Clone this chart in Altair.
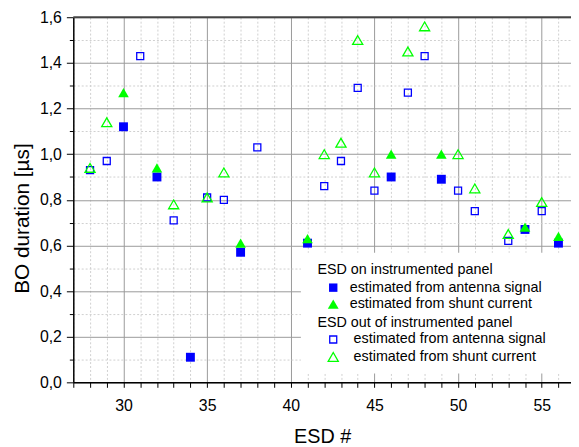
import altair as alt
import pandas as pd

# ---------------- data ----------------
series_names = ["estimated from antenna signal", "estimated from shunt current"]

on_antenna_esd = [30, 32, 34, 37, 41, 46, 49, 54, 56]
on_antenna_val = [1.12, 0.90, 0.11, 0.57, 0.61, 0.90, 0.89, 0.67, 0.61]

on_shunt_esd = [30, 32, 37, 41, 46, 49, 54, 56]
on_shunt_val = [1.27, 0.94, 0.61, 0.63, 1.00, 1.00, 0.68, 0.64]

out_antenna_esd = [28, 29, 31, 33, 35, 36, 38, 42, 43, 44, 45, 47, 48, 50, 51, 53, 55]
out_antenna_val = [0.93, 0.97, 1.43, 0.71, 0.81, 0.80, 1.03, 0.86, 0.97, 1.29, 0.84,
                   1.27, 1.43, 0.84, 0.75, 0.62, 0.75]

out_shunt_esd = [28, 29, 33, 35, 36, 42, 43, 44, 45, 47, 48, 50, 51, 53, 55]
out_shunt_val = [0.94, 1.14, 0.78, 0.81, 0.92, 1.00, 1.05, 1.50, 0.92, 1.45, 1.56,
                 1.00, 0.85, 0.65, 0.79]

x_ticks = list(range(27, 57))
y_ticks = [0.0, 0.1, 0.2, 0.3, 0.4, 0.5, 0.6, 0.7, 0.8, 0.9, 1.0,
           1.1, 1.2, 1.3, 1.4, 1.5, 1.6]

legend_group_titles = ["ESD on instrumented panel", "ESD out of instrumented panel"]

# ---------------- tables ----------------
df_on = pd.DataFrame({
    "esd": on_antenna_esd + on_shunt_esd,
    "dur": on_antenna_val + on_shunt_val,
    "series": [series_names[0]] * len(on_antenna_esd) + [series_names[1]] * len(on_shunt_esd),
})
df_out = pd.DataFrame({
    "esd": out_antenna_esd + out_shunt_esd,
    "dur": out_antenna_val + out_shunt_val,
    "series": [series_names[0]] * len(out_antenna_esd) + [series_names[1]] * len(out_shunt_esd),
})

# ---------------- styling ----------------
W, H = 503, 369
FONT = "Liberation Sans"
BLUE = "#0000ff"
GREEN = "#00ff00"
SHAPES = ["square", "triangle-up"]
COLORS = [BLUE, GREEN]
LEG_FS = 14.5

x_scale = alt.Scale(domain=[27, 56.75], nice=False, zero=False)
y_scale = alt.Scale(domain=[0, 1.6], nice=False, zero=False)

x_major = "datum.value % 5 == 0"
y_major = "round(datum.value * 10) % 2 == 0"

x_axis = alt.Axis(
    values=x_ticks,
    labelExpr=f"{x_major} ? datum.label : ''",
    labelOverlap=False, labelFlush=False,
    tickSize=5, tickColor="black", tickWidth=1,
    labelPadding=10, labelFontSize=16, labelFont=FONT, labelColor="black",
    title="ESD #", titleFontSize=20, titleFont=FONT, titleFontWeight="normal",
    titleColor="black", titlePadding=14,
    domainColor="black", domainWidth=1.5,
    grid=True,
    gridDash={"condition": {"test": x_major, "value": []}, "value": [2, 2]},
    gridColor={"condition": {"test": x_major, "value": "#9a9a9a"}, "value": "#cfcfcf"},
    gridWidth=1,
)

y_axis = alt.Axis(
    values=y_ticks,
    labelExpr=f"{y_major} ? replace(format(datum.value, '.1f'), '.', ',') : ''",
    labelOverlap=False, labelFlush=False,
    tickSize={"condition": {"test": y_major, "value": 7}, "value": 4},
    tickColor="black", tickWidth=1,
    labelPadding=5, labelFontSize=16, labelFont=FONT, labelColor="black",
    title="BO duration [µs]", titleFontSize=21, titleFont=FONT, titleFontWeight="normal",
    titleColor="black", titleX=-41, titleY=203,
    domainColor="black", domainWidth=1.5,
    grid=True,
    gridDash={"condition": {"test": y_major, "value": []}, "value": [2, 2]},
    gridColor={"condition": {"test": y_major, "value": "#9a9a9a"}, "value": "#cfcfcf"},
    gridWidth=1,
)

ONE = alt.Data(values=[{}])

# background box of the legend (hides the grid behind it)
legend_bg = alt.Chart(ONE).mark_rect(fill="white").encode(
    x=alt.value(230), x2=alt.value(W), y=alt.value(238), y2=alt.value(360)
)

# top frame line
top_frame = alt.Chart(ONE).mark_rule(color="#444444", strokeWidth=2).encode(
    x=alt.value(0), x2=alt.value(W), y=alt.value(0)
)


def legend_text(txt, px, py):
    return alt.Chart(ONE).mark_text(
        text=txt, align="left", baseline="middle", font=FONT, fontSize=LEG_FS, color="black"
    ).encode(x=alt.value(px), y=alt.value(py))


def legend_symbol(shape, filled, color, size, px, py):
    return alt.Chart(ONE).mark_point(
        shape=shape, filled=filled, color=color, size=size, opacity=1, strokeWidth=1.3
    ).encode(x=alt.value(px), y=alt.value(py))


legend_layers = [
    legend_text(legend_group_titles[0], 246.7, 255),
    legend_symbol(SHAPES[0], True, COLORS[0], 72, 262.7, 273.3),
    legend_text(series_names[0], 279.3, 273.3),
    legend_symbol(SHAPES[1], True, COLORS[1], 120, 262.7, 290),
    legend_text(series_names[1], 279.3, 290),
    legend_text(legend_group_titles[1], 246.7, 309),
    legend_symbol(SHAPES[0], False, COLORS[0], 50, 262.7, 325.7),
    legend_text(series_names[0], 283.3, 325.7),
    legend_symbol(SHAPES[1], False, COLORS[1], 105, 262.7, 343.3),
    legend_text(series_names[1], 283.3, 343.3),
]

pts_on = alt.Chart(df_on).mark_point(filled=True, opacity=1).encode(
    x=alt.X("esd:Q", scale=x_scale, axis=x_axis),
    y=alt.Y("dur:Q", scale=y_scale, axis=y_axis),
    shape=alt.Shape("series:N", scale=alt.Scale(domain=series_names, range=SHAPES), legend=None),
    color=alt.Color("series:N", scale=alt.Scale(domain=series_names, range=COLORS), legend=None),
    size=alt.Size("series:N", scale=alt.Scale(domain=series_names, range=[81, 115]), legend=None),
)

pts_out = alt.Chart(df_out).mark_point(filled=False, opacity=1, strokeWidth=1.3).encode(
    x=alt.X("esd:Q", scale=x_scale, axis=x_axis),
    y=alt.Y("dur:Q", scale=y_scale, axis=y_axis),
    shape=alt.Shape("series:N", scale=alt.Scale(domain=series_names, range=SHAPES), legend=None),
    color=alt.Color("series:N", scale=alt.Scale(domain=series_names, range=COLORS), legend=None),
    size=alt.Size("series:N", scale=alt.Scale(domain=series_names, range=[50, 105]), legend=None),
)

chart = (
    alt.layer(legend_bg, top_frame, pts_on, pts_out, *legend_layers)
    .resolve_scale(color="independent", shape="independent", size="independent")
    .properties(
        width=W, height=H,
        autosize=alt.AutoSizeParams(type="none"),
        padding={"left": 66, "top": 7, "right": 0, "bottom": 62},
        background="white",
    )
    .configure_view(stroke=None)
)

chart.save("out.html", embed_options={"renderer": "svg", "actions": False})
